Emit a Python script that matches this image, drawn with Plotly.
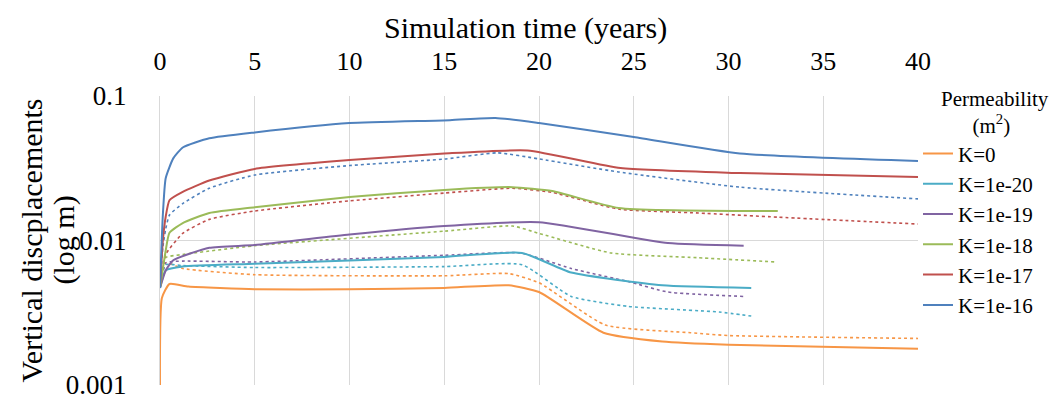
import plotly.graph_objects as go

# ---- data (years, metres) ----
labels = ["K=0", "K=1e-20", "K=1e-19", "K=1e-18", "K=1e-17", "K=1e-16"]
colors = ["#F79646", "#4BACC6", "#8064A2", "#9BBB59", "#C0504D", "#4F81BD"]

# solid series
t_k0 = [0, 0.1, 0.5, 1.5, 5, 10, 15, 18.4, 20, 23.4, 26.5, 30, 40]
v_k0 = [0.001, 0.0040, 0.0050, 0.0048, 0.0046, 0.0046, 0.0047, 0.0049, 0.0044, 0.0023, 0.0020, 0.0019, 0.00178]

t_k20 = [0, 0.3, 1.2, 5, 15, 19.1, 21.7, 26.5, 31.2]
v_k20 = [0.0047, 0.0062, 0.0066, 0.0069, 0.0077, 0.0082, 0.0060, 0.0049, 0.0047]

t_k19 = [0, 0.3, 0.7, 2.6, 5, 10, 15, 20, 26.8, 30.8]
v_k19 = [0.0047, 0.0062, 0.0073, 0.0089, 0.0093, 0.0110, 0.0126, 0.0134, 0.0096, 0.0092]

t_k18 = [0, 0.3, 0.5, 1.2, 2.6, 5, 10, 15, 18.6, 20.7, 24.2, 32.6]
v_k18 = [0.0047, 0.0085, 0.0113, 0.0132, 0.0155, 0.0170, 0.0200, 0.0224, 0.0234, 0.0220, 0.0168, 0.0160]

t_k17 = [0, 0.15, 0.3, 0.5, 1.2, 2.6, 5, 10, 15, 19.4, 24.3, 30.6, 40]
v_k17 = [0.0047, 0.0100, 0.0146, 0.0190, 0.0217, 0.0260, 0.0313, 0.0360, 0.0400, 0.0420, 0.0317, 0.0293, 0.0275]

t_k16 = [0, 0.15, 0.3, 0.7, 1.2, 2.6, 5, 10, 15.3, 17.7, 20, 25, 30.6, 40]
v_k16 = [0.0047, 0.0150, 0.0270, 0.0370, 0.0440, 0.0510, 0.0560, 0.0650, 0.0680, 0.0705, 0.0650, 0.0520, 0.0400, 0.0355]

# dotted series
td_k0 = [0, 0.3, 1.2, 5, 15, 18.4, 20, 23.5, 28, 30, 40]
vd_k0 = [0.0047, 0.0070, 0.0064, 0.0058, 0.0057, 0.0059, 0.0051, 0.0026, 0.0023, 0.0022, 0.0021]

td_k20 = [0, 0.3, 1.2, 5, 15, 19.1, 21.7, 24.7, 29.5, 31.2]
vd_k20 = [0.0047, 0.0068, 0.0067, 0.0065, 0.0066, 0.0068, 0.0041, 0.0035, 0.0032, 0.0030]

td_k19 = [0, 0.3, 1.2, 5, 15, 19.0, 21.7, 24.7, 26.8, 30.8]
vd_k19 = [0.0047, 0.0070, 0.0072, 0.0071, 0.0079, 0.0082, 0.0064, 0.0052, 0.0044, 0.0041]

td_k18 = [0, 0.3, 1.2, 5, 15, 18.6, 20, 23.8, 28.4, 32.5]
vd_k18 = [0.0047, 0.0076, 0.0080, 0.0092, 0.0116, 0.0126, 0.0112, 0.0082, 0.0076, 0.0071]

td_k17 = [0, 0.3, 1.2, 2.6, 5, 10, 15, 18.6, 20.7, 24.2, 28.4, 32.6, 40]
vd_k17 = [0.0047, 0.0080, 0.0112, 0.0140, 0.0160, 0.0188, 0.0213, 0.0230, 0.0215, 0.0165, 0.0155, 0.0145, 0.0130]

td_k16 = [0, 0.15, 0.3, 0.5, 1.2, 2.6, 5, 10, 15, 17.8, 20, 24.2, 30.6, 40]
vd_k16 = [0.0047, 0.0090, 0.0120, 0.0150, 0.0180, 0.0230, 0.0284, 0.0330, 0.0366, 0.0404, 0.0367, 0.0298, 0.0234, 0.0194]

x_ticks = [0, 5, 10, 15, 20, 25, 30, 35, 40]
y_ticks = [0.001, 0.01, 0.1]
y_tick_text = ["0.001", "0.01", "0.1"]

solid = [(t_k0, v_k0), (t_k20, v_k20), (t_k19, v_k19), (t_k18, v_k18), (t_k17, v_k17), (t_k16, v_k16)]
dotted = [(td_k0, vd_k0), (td_k20, vd_k20), (td_k19, vd_k19), (td_k18, vd_k18), (td_k17, vd_k17), (td_k16, vd_k16)]

fig = go.Figure()
for (t, v), c in zip(dotted, colors):
    fig.add_trace(go.Scatter(x=t, y=v, mode="lines", showlegend=False,
                             line=dict(color=c, width=1.6, dash="dot", shape="spline", smoothing=0.5)))
for (t, v), c, name in zip(solid, colors, labels):
    fig.add_trace(go.Scatter(x=t, y=v, mode="lines", name=name,
                             line=dict(color=c, width=2, shape="spline", smoothing=0.5)))

serif = "Liberation Serif"
nb = "\u00a0"
# page body adds an 8px offset, so the figure is 8px smaller and margins shifted
fig.update_layout(
    width=1049, height=389,
    margin=dict(l=152, r=139, t=88, b=12, autoexpand=False),
    paper_bgcolor="white", plot_bgcolor="white",
    font=dict(family=serif, color="black", size=22),
    showlegend=True,
    legend=dict(
        x=1.0, y=1.06, xanchor="left", yanchor="top",
        font=dict(size=21, family=serif, color="black"),
        title=dict(text=nb * 4 + "Permeability<br>" + nb * 10 + "(m<sup>2</sup>)", side="top",
                   font=dict(size=21, family=serif, color="black")),
        itemwidth=30, bgcolor="rgba(0,0,0,0)", tracegroupgap=0,
    ),
    xaxis=dict(
        side="top", range=[0, 40], tickvals=x_ticks, ticks="", ticklabelstandoff=20,
        showgrid=True, gridcolor="#d9d9d9", gridwidth=1, zeroline=False, automargin=False,
        showline=False, tickfont=dict(size=26, family=serif, color="black"),
    ),
    yaxis=dict(
        type="log", range=[-3, -1], tickvals=y_ticks, ticktext=y_tick_text, ticks="",
        ticklabelstandoff=27, ticklabeloverflow="allow", showgrid=True, gridcolor="#d9d9d9", gridwidth=1,
        zeroline=False, showline=True, linecolor="#d9d9d9", automargin=False,
        tickfont=dict(size=27, family=serif, color="black"),
    ),
    annotations=[
        dict(text="Simulation time (years)", xref="paper", yref="paper",
             x=(525 - 160) / 758, y=1 + 87 / 289, xanchor="center", yanchor="top",
             showarrow=False, font=dict(size=30, family=serif, color="black")),
        dict(text="Vertical discplacements", xref="paper", yref="paper", textangle=-90,
             x=(31 - 160) / 758, y=0.5, xanchor="center", yanchor="middle",
             showarrow=False, font=dict(size=30, family=serif, color="black")),
        dict(text="(log m)", xref="paper", yref="paper", textangle=-90,
             x=(63 - 160) / 758, y=0.5, xanchor="center", yanchor="middle",
             showarrow=False, font=dict(size=30, family=serif, color="black")),
    ],
)
try:
    fig.update_layout(legend_maxheight=330)
except Exception:
    pass

fig.write_html("out.html")
